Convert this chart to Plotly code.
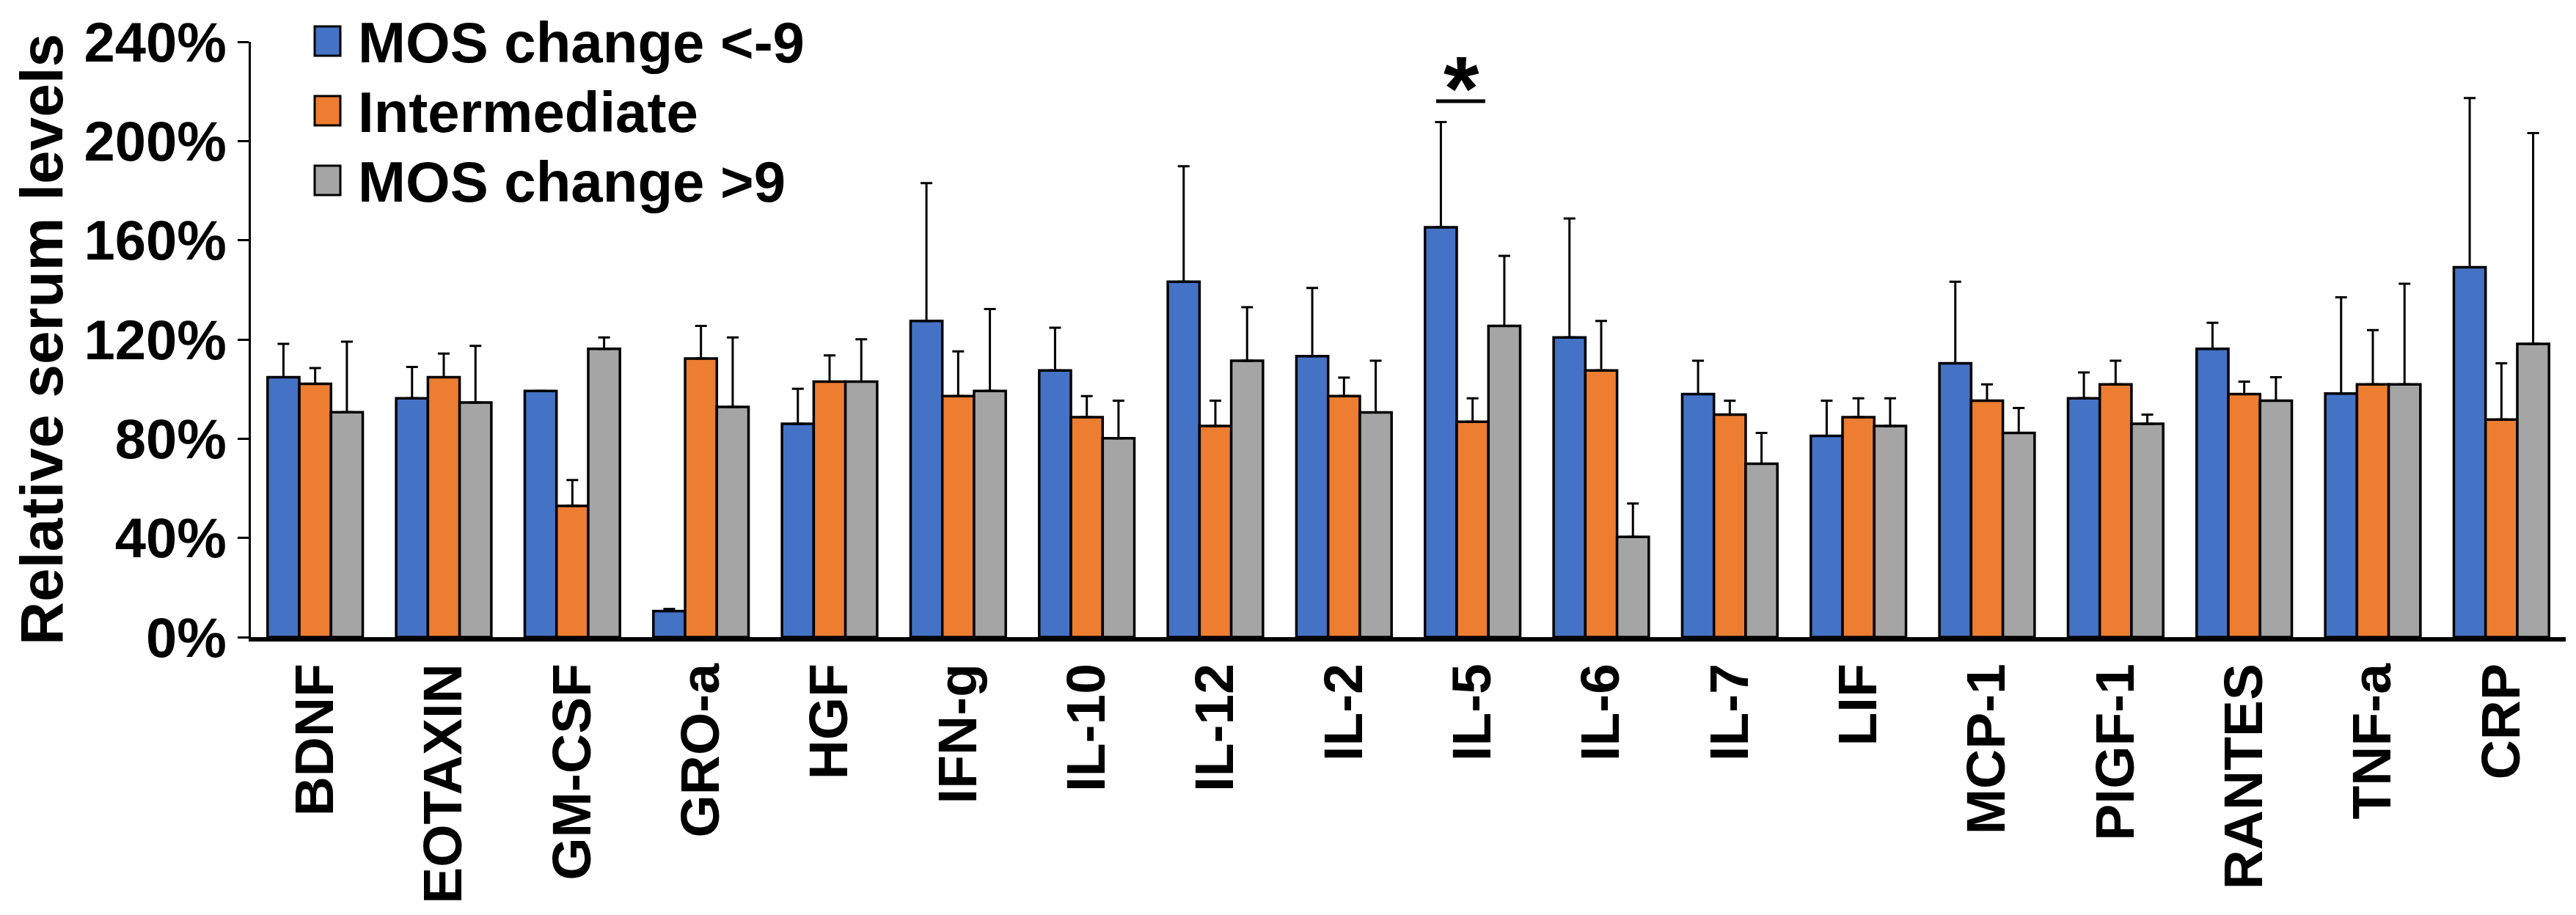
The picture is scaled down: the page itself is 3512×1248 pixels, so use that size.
#!/usr/bin/env python3
"""Relative serum levels of cytokines by MOS change group (grouped bars, upper SEM bars)."""
import plotly.graph_objects as go

# ---- data (percent of reference) ----
categories = ["BDNF", "EOTAXIN", "GM-CSF", "GRO-a", "HGF", "IFN-g", "IL-10", "IL-12", "IL-2",
              "IL-5", "IL-6", "IL-7", "LIF", "MCP-1", "PIGF-1", "RANTES", "TNF-a", "CRP"]
series_names = ["MOS change <-9", "Intermediate", "MOS change >9"]

low_vals = [104.8, 96.3, 99.2, 10.5, 86.0, 127.5, 107.5, 143.3, 113.3,
            165.2, 120.8, 98.0, 81.1, 110.4, 96.3, 116.2, 98.2, 149.1]
low_err = [13.4, 12.6, 0.0, 0.9, 14.1, 55.5, 17.2, 46.5, 27.5,
           42.4, 48.0, 13.4, 14.2, 32.9, 10.4, 10.5, 38.8, 68.2]

mid_vals = [102.1, 104.8, 52.9, 112.3, 103.0, 97.2, 88.7, 85.1, 97.2,
            86.8, 107.5, 89.7, 88.7, 95.3, 101.9, 98.0, 101.9, 87.7]
mid_err = [6.4, 9.5, 10.4, 13.2, 10.6, 18.0, 8.5, 10.2, 7.4,
           9.5, 20.0, 5.6, 7.6, 6.6, 9.5, 5.0, 21.9, 22.7]

high_vals = [90.7, 94.6, 116.2, 92.8, 103.0, 99.2, 80.2, 111.4, 90.6,
             125.5, 40.4, 69.9, 85.1, 82.3, 86.0, 95.3, 101.9, 118.2]
high_err = [28.4, 22.8, 4.6, 28.0, 17.1, 33.1, 15.1, 21.6, 20.8,
            28.2, 13.5, 12.4, 11.2, 10.1, 3.7, 9.5, 40.6, 85.0]

colors = ["#4472C4", "#ED7D31", "#A5A5A5"]

W, H = 3512, 1248
ML, MR, MT, MB = 334, 22, 49, 387
FONT = "Arial, Liberation Sans, sans-serif"


def px_x(px):
    return (px - ML) / (W - ML - MR)


def px_y(py):
    return (H - MB - py) / (H - MT - MB)


fig = go.Figure()
for name, vals, errs, col in zip(series_names, [low_vals, mid_vals, high_vals],
                                 [low_err, mid_err, high_err], colors):
    fig.add_trace(go.Bar(
        x=categories, y=vals, name=name, marker_color=col,
        marker_line=dict(color="black", width=3.5),
        error_y=dict(type="data", symmetric=False, array=errs, arrayminus=[0] * len(errs),
                     color="black", thickness=3, width=8),
        showlegend=False))

# legend drawn by hand so the swatches match the big text
shapes, annotations = [], []
for i, (name, col) in enumerate(zip(series_names, colors)):
    cy = 48 + i * 95
    shapes.append(dict(type="rect", xref="paper", yref="paper",
                       x0=px_x(421), x1=px_x(456), y0=px_y(cy + 20), y1=px_y(cy - 20),
                       fillcolor=col, line=dict(color="black", width=3)))
    annotations.append(dict(text=name, xref="paper", yref="paper", x=px_x(478), y=px_y(cy + 2),
                            xanchor="left", yanchor="middle", showarrow=False,
                            font=dict(family=FONT, size=78, color="black", weight="bold")))

# significance mark over IL-5
shapes.append(dict(type="line", xref="paper", yref="paper", x0=px_x(1950), x1=px_x(2017),
                   y0=px_y(130), y1=px_y(130), line=dict(color="black", width=5)))
annotations.append(dict(text="*", xref="paper", yref="paper", x=px_x(1984), y=px_y(112),
                        xanchor="center", yanchor="middle", showarrow=False,
                        font=dict(family=FONT, size=125, color="black", weight="bold")))

# y-axis title as a rotated annotation so it can sit near the left edge
annotations.append(dict(text="Relative serum levels", xref="paper", yref="paper",
                        x=px_x(48), y=0.5, xanchor="center", yanchor="middle",
                        textangle=-90, showarrow=False,
                        font=dict(family=FONT, size=82, color="black", weight="bold")))

fig.update_layout(
    width=W, height=H, margin=dict(l=ML, r=MR, t=MT, b=MB, pad=0),
    paper_bgcolor="white", plot_bgcolor="white",
    barmode="group", bargap=0.26, bargroupgap=0,
    shapes=shapes, annotations=annotations,
    font=dict(family=FONT, color="black"),
)
fig.update_xaxes(
    automargin=False, showline=True, linecolor="black", linewidth=6, ticks="", tickangle=-90,
    tickfont=dict(family=FONT, size=75, color="black", weight="bold"),
    ticklabelstandoff=0, showgrid=False, zeroline=False)
fig.update_yaxes(
    automargin=False, range=[0, 240], dtick=40, ticksuffix="%", showline=True,
    linecolor="black", linewidth=3, ticks="outside", ticklen=15, tickwidth=3,
    tickcolor="black", showgrid=False, zeroline=False,
    tickfont=dict(family=FONT, size=76, color="black", weight="bold"))

fig.write_html("out.html")
